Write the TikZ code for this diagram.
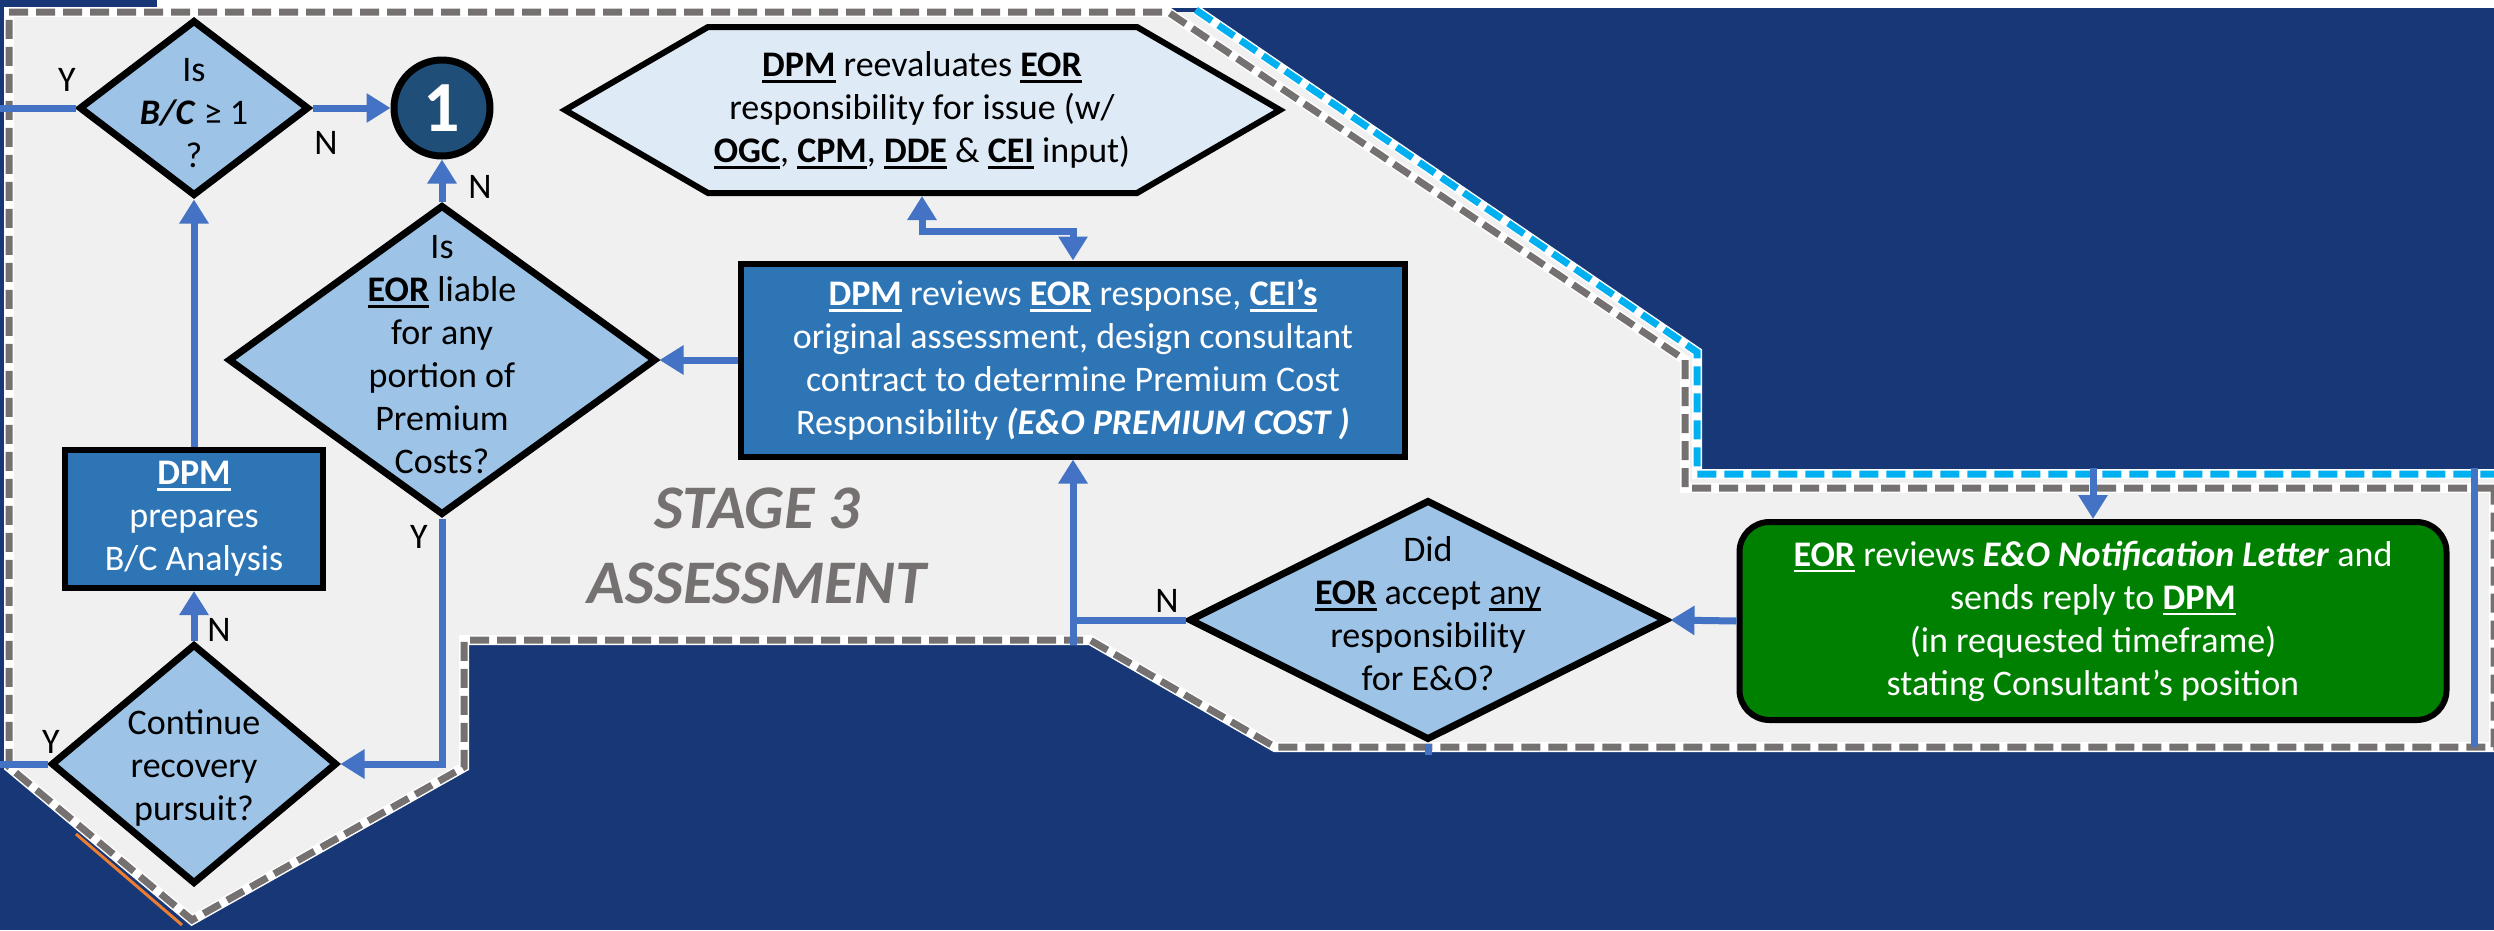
\documentclass[tikz,border=0pt]{standalone}
\usepackage{fontspec}
\setmainfont{Carlito}
\usetikzlibrary{shapes.geometric,arrows.meta}

\definecolor{navybg}{RGB}{23,55,119}
\definecolor{regiongray}{RGB}{240,240,240}
\definecolor{dashgray}{RGB}{118,113,113}
\definecolor{dashcyan}{RGB}{0,176,240}
\definecolor{linkblue}{RGB}{68,114,196}
\definecolor{qfill}{RGB}{157,195,230}
\definecolor{boxblue}{RGB}{46,117,182}
\definecolor{hexfill}{RGB}{222,235,247}
\definecolor{circfill}{RGB}{31,78,121}
\definecolor{okgreen}{RGB}{0,128,0}
\definecolor{edgeorange}{RGB}{237,125,49}

\newcommand{\bigfont}{\fontsize{36}{43}\selectfont}
\newcommand{\undl}[1]{\setbox0=\hbox{#1}\rlap{\rule[-6pt]{\wd0}{2.5pt}}\box0\relax}
\newcommand{\bu}[1]{\undl{\textbf{#1}}}

\tikzset{
  question/.style={diamond,draw=black,line width=7pt,fill=qfill,inner sep=0pt},
  qtext/.style={align=center,font=\bigfont},
  darkbox/.style={rectangle,draw=black,line width=6pt,fill=boxblue,text=white,align=center,font=\bigfont},
  link/.style={draw=linkblue,line width=7pt},
  flow/.style={link,-{Triangle[length=24pt,width=28pt]}},
  flowboth/.style={link,{Triangle[length=24pt,width=28pt]}-{Triangle[length=24pt,width=28pt]}},
  yn/.style={font=\fontsize{36}{40}\selectfont},
  graydash/.style={draw=dashgray,line width=7pt,dash pattern=on 19pt off 8pt},
  cyandash/.style={draw=dashcyan,line width=7pt,dash pattern=on 19pt off 8pt},
}

\begin{document}
\begin{tikzpicture}[x=1pt,y=-1pt]
    \useasboundingbox (0,0) rectangle (2494,930);

    % background and stage region
    \fill[navybg] (0,0) rectangle (2494,930);
    \fill[white] (157,0) rectangle (2494,8);
    \fill[regiongray] (9,12) -- (1196,12) -- (1697,352) -- (1697,474) -- (2494,474) -- (2494,747)
        -- (1275,747) -- (1090,640) -- (464,640) -- (464,767) -- (192,920) -- (9,767) -- cycle;
    \fill[navybg] (1200,8) -- (2494,8) -- (2494,468) -- (1703,468) -- (1703,350) -- cycle;

    \draw[white,line width=10pt] (1196,10) -- (1697,352) -- (1697,474) -- (2494,474);
    \draw[cyandash] (1196,10) -- (1697,352) -- (1697,474) -- (2494,474);
    \draw[white,line width=10pt] (2494,488) -- (1685,488) -- (1685,360) -- (1168,12) -- (9,12) -- (9,767)
        -- (192,920) -- (464,767) -- (464,640) -- (1090,640) -- (1275,747) -- (2494,747) -- cycle;
    \draw[graydash] (2494,488) -- (1685,488) -- (1685,360) -- (1168,12) -- (9,12) -- (9,767)
        -- (192,920) -- (464,767) -- (464,640) -- (1090,640) -- (1275,747) -- (2494,747) -- cycle;
    \draw[edgeorange,line width=3pt] (76,834) -- (182,925);

    % hexagon outline
    \draw[black,line width=6pt,fill=hexfill] (565,110) -- (708,27) -- (1137,27) -- (1280,110)
        -- (1137,193) -- (708,193) -- cycle;

    % nodes
    \node[question, minimum width=230pt, minimum height=176pt] (bcq) at (194,108) {};
    \node[qtext] (bcqtext) at (194,113) {Is\\\textbf{\textit{B/C}} ≥ 1\\?};

    \node[circle, draw=black, line width=7pt, fill=circfill, minimum size=96pt, inner sep=0pt,
        text=white, font=\fontsize{72}{76}\selectfont\bfseries] (one) at (442,108) {1};

    \node[question, minimum width=428pt, minimum height=310pt] (liable) at (442,360) {};
    \node[qtext] (liabletext) at (442,355) {Is\\\bu{EOR} liable\\for any\\portion of\\Premium\\Costs?};

    \node[darkbox, minimum width=258pt, minimum height=138pt] (bcprep) at (194,519)
        {\bu{DPM}\\prepares\\B/C Analysis};

    \node[question, minimum width=286pt, minimum height=240pt] (recov) at (194,764) {};
    \node[qtext] (recovtext) at (194,768) {Continue\\recovery\\pursuit?};

    \node[qtext, minimum width=715pt, minimum height=166pt, outer sep=3pt] (hex) at (922,110)
        {\bu{DPM} reevaluates \bu{EOR}\\responsibility for issue (w/\\\bu{OGC}, \bu{CPM}, \bu{DDE} \& \bu{CEI} input)};

    \node[darkbox, minimum width=664pt, minimum height=193pt] (reviews) at (1073,360)
        {\bu{DPM} reviews \bu{EOR} response, \bu{CEI’s}\\original assessment, design consultant\\contract to determine Premium Cost\\Responsibility \textbf{\textit{(E\&O PREMIUM COST )}}};

    \node[question, minimum width=478pt, minimum height=240pt] (did) at (1428,620) {};
    \node[qtext] (didtext) at (1428,614) {Did\\\bu{EOR} accept \undl{any}\\responsibility\\for E\&O?};

    \node[rectangle, rounded corners=30pt, draw=black, line width=6pt, fill=okgreen, text=white,
        align=center, font=\bigfont, minimum width=707pt, minimum height=198pt] (reply) at (2093,621)
        {\bu{EOR} reviews \textbf{\textit{E\&O Notification Letter}} and\\sends reply to \bu{DPM}\\(in requested timeframe)\\stating Consultant’s position};

    \node[font=\fontsize{62}{75}\selectfont\bfseries\itshape, text=dashgray, align=center] (stage) at (757,546)
        {STAGE 3\\ASSESSMENT};

    % Y / N labels
    \node[yn] (ybc) at (67,80) {Y};
    \node[yn] (nbc) at (326,143) {N};
    \node[yn] (nliable) at (480,187) {N};
    \node[yn] (yliable) at (419,537) {Y};
    \node[yn] (nrecov) at (219,630) {N};
    \node[yn] (yrecov) at (51,742) {Y};
    \node[yn] (ndid) at (1167,601) {N};

    % free ends
    \coordinate (leftbc) at (0,108);
    \coordinate (leftrec) at (0,764);
    \coordinate (notchin) at (1073,645);
    \coordinate (navyout) at (2093,468);
    \coordinate (sidetop) at (2474,468);
    \coordinate (sidebot) at (2474,747);
    \coordinate (didout) at (1428,755);

    % connectors
    \draw[link] (leftbc) -- (bcq.west);
    \draw[flow] (bcq.east) -- (one.west);
    \draw[flow] (liable.north) -- (one.south);
    \draw[flow] (bcprep.north) -- (bcq.south);
    \draw[flow] (recov.north) -- (bcprep.south);
    \draw[link] (leftrec) -- (recov.west);
    \draw[flow] (liable.south) |- (recov.east);
    \draw[flow] (reviews.west) -- (liable.east);
    \draw[flowboth] (hex.south) -- ++(0,35) -| (reviews.north);
    \draw[flow] (notchin) -- (reviews.south);
    \draw[link] (did.west) -- (did.west -| notchin);
    \draw[flow] (reply.west) -- (did.east);
    \draw[flow] (navyout) -- (reply.north);
    \draw[link] (did.south) -- (didout);
    \draw[link] (sidetop) -- (sidebot);
\end{tikzpicture}
\end{document}
